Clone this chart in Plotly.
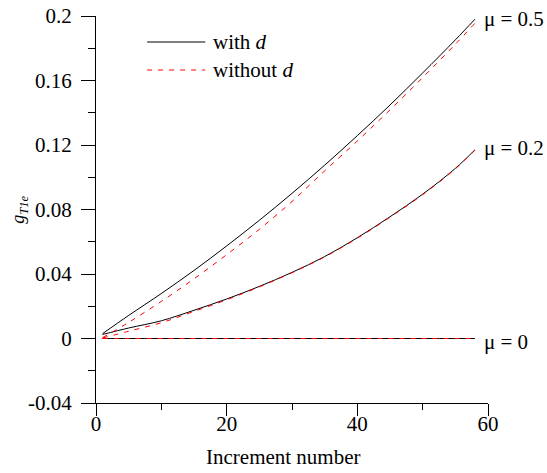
import plotly.graph_objects as go

# Increment numbers
inc = [1, 5, 10, 15, 20, 25, 30, 35, 40, 45, 50, 55, 58]

# mu = 0.5
mu05_with = [0.003, 0.0143, 0.0279, 0.0422, 0.0574, 0.0733, 0.090, 0.1075, 0.1258, 0.1448, 0.1647, 0.1852, 0.198]
mu05_without = [0.0005, 0.010, 0.023, 0.037, 0.052, 0.0677, 0.085, 0.104, 0.1225, 0.1418, 0.1618, 0.1825, 0.1955]
# mu = 0.2
mu02_with = [0.0025, 0.0065, 0.011, 0.0175, 0.0245, 0.0323, 0.041, 0.0508, 0.0625, 0.0755, 0.0895, 0.1055, 0.117]
mu02_without = [0.0003, 0.0045, 0.0098, 0.0168, 0.024, 0.032, 0.0408, 0.0506, 0.0622, 0.0752, 0.0892, 0.1052, 0.1167]
# mu = 0
mu0_with = [0.0] * len(inc)
mu0_without = [0.0] * len(inc)

curve_labels = ["μ = 0.5", "μ = 0.2", "μ = 0"]
legend_labels = ["with <i>d</i>", "without <i>d</i>"]
x_title = "Increment number"
y_title = "<i>g</i><sub><i>T1e</i></sub>"

FONT = "Times New Roman, Liberation Serif, serif"
BLACK = "#000000"
RED = "#ff0000"
DASH = "5px,6px"

fig = go.Figure()
with_sets = [mu05_with, mu02_with, mu0_with]
without_sets = [mu05_without, mu02_without, mu0_without]
for ys in with_sets:
    fig.add_trace(go.Scatter(x=inc, y=ys, mode="lines", line=dict(color=BLACK, width=1, shape="spline"),
                             showlegend=False, hoverinfo="skip"))
for ys in without_sets:
    fig.add_trace(go.Scatter(x=inc, y=ys, mode="lines", line=dict(color=RED, width=1, dash=DASH, shape="spline"),
                             showlegend=False, hoverinfo="skip"))

# curve labels at the end of the lines
label_y = [mu05_with[-1], mu02_with[-1], mu0_with[-1]]
label_shift = [0, 2, -3]
for txt, yv, sh in zip(curve_labels, label_y, label_shift):
    fig.add_annotation(x=inc[-1], y=yv, text=txt, showarrow=False, xanchor="left",
                       xshift=7, yshift=sh, font=dict(family=FONT, size=21, color=BLACK))

# paper-coordinate helpers
pw, ph = 391.0, 387.0
def px(xp):
    return (xp - 96) / pw
def py(yp):
    return (403 - yp) / ph

# manual legend
leg_rows = [(42, BLACK, None), (70, RED, DASH)]
for (yp, col, dash), txt in zip(leg_rows, legend_labels):
    fig.add_shape(type="line", xref="paper", yref="paper", x0=px(147), x1=px(205),
                  y0=py(yp), y1=py(yp), line=dict(color=col, width=1, dash=dash))
    fig.add_annotation(xref="paper", yref="paper", x=px(211), y=py(yp), text=txt,
                       showarrow=False, xanchor="left", yanchor="middle",
                       font=dict(family=FONT, size=21, color=BLACK))

# axis titles
fig.add_annotation(xref="paper", yref="paper", x=px(283), y=py(457), text=x_title,
                   showarrow=False, xanchor="center", yanchor="middle",
                   font=dict(family=FONT, size=21, color=BLACK))
fig.add_annotation(xref="paper", yref="paper", x=px(20), y=py(210), text=y_title,
                   showarrow=False, xanchor="center", yanchor="middle", textangle=-90,
                   font=dict(family=FONT, size=18, color=BLACK))

fig.update_layout(
    width=547, height=473,
    margin=dict(l=96, r=59, t=16, b=70),
    paper_bgcolor="white", plot_bgcolor="white",
    font=dict(family=FONT, size=21, color=BLACK),
    showlegend=False,
    xaxis=dict(range=[0, 60], tickvals=[0, 20, 40, 60], showgrid=False, zeroline=False,
               automargin=False,
               showline=True, linecolor=BLACK, linewidth=1, ticks="outside", ticklen=12,
               tickcolor=BLACK, tickwidth=1, ticklabelstandoff=-10,
               minor=dict(tickvals=[10, 30, 50], ticks="outside", ticklen=6, tickcolor=BLACK, tickwidth=1, showgrid=False),
               tickfont=dict(family=FONT, size=21)),
    yaxis=dict(range=[-0.04, 0.2], tickvals=[-0.04, 0, 0.04, 0.08, 0.12, 0.16, 0.2],
               ticktext=["-0.04", "0", "0.04", "0.08", "0.12", "0.16", "0.2"],
               showgrid=False, zeroline=False, automargin=False,
               showline=True, linecolor=BLACK, linewidth=1, ticks="outside", ticklen=14,
               tickcolor=BLACK, tickwidth=1, ticklabelstandoff=5,
               minor=dict(tickvals=[-0.02, 0.02, 0.06, 0.10, 0.14, 0.18], ticks="outside", ticklen=7,
                          tickcolor=BLACK, tickwidth=1, showgrid=False),
               tickfont=dict(family=FONT, size=21)),
)

fig.write_html("out.html")
